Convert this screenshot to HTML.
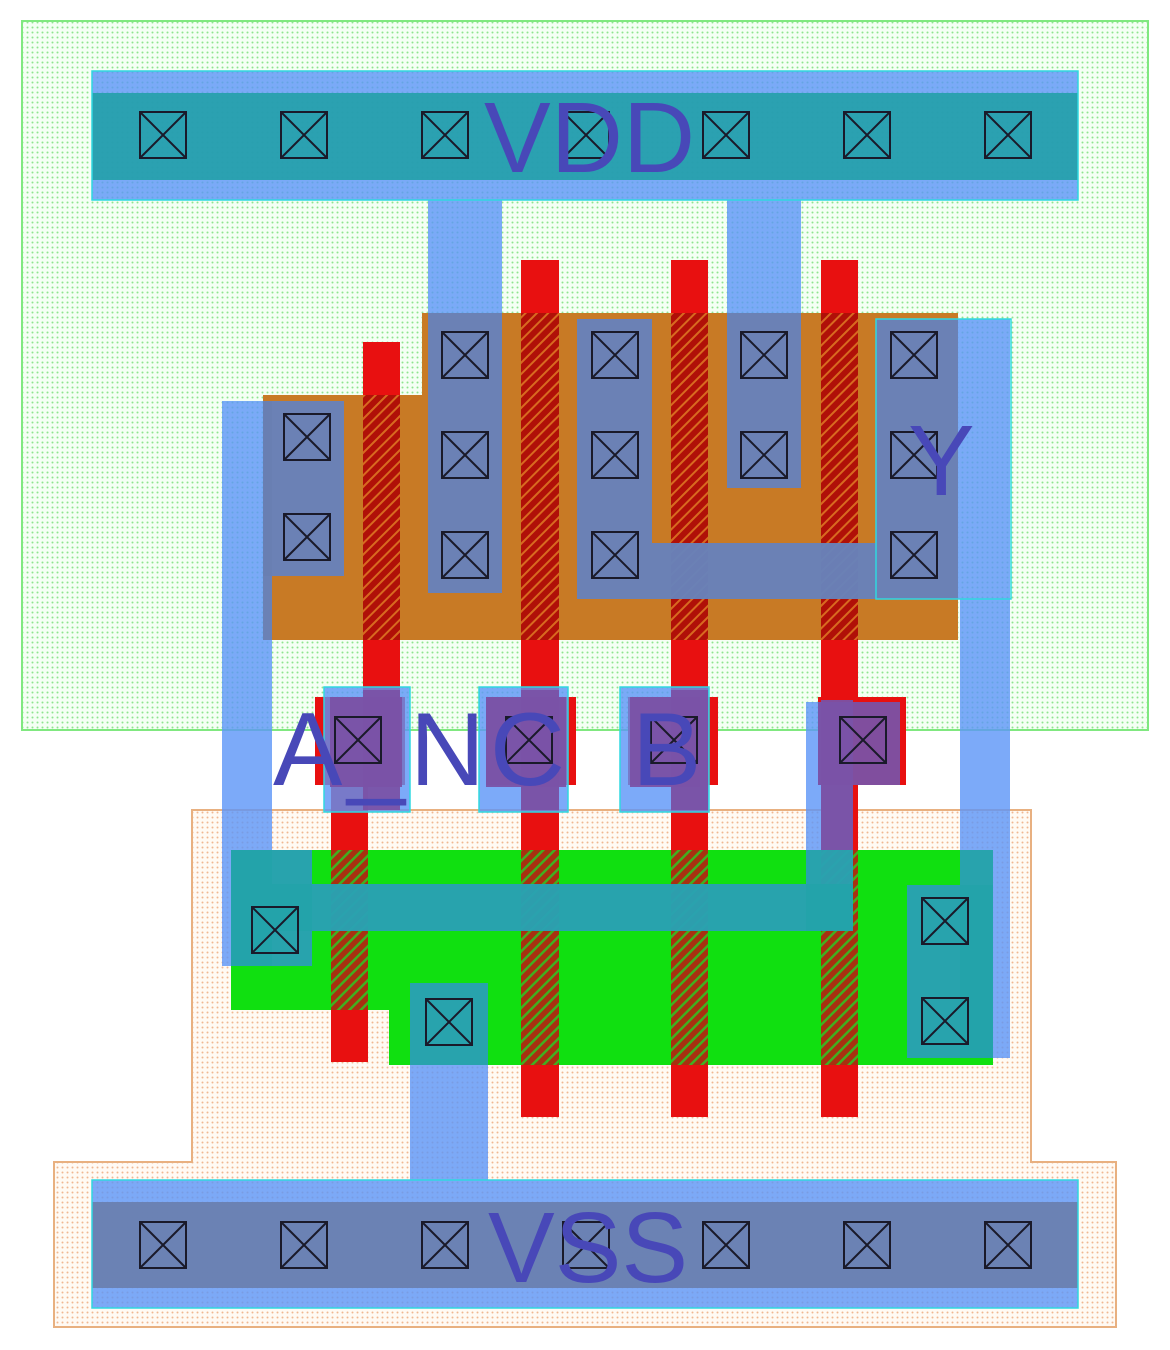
<!DOCTYPE html>
<html><head><meta charset="utf-8"><style>html,body{margin:0;padding:0;background:#fff}svg{display:block}</style></head><body>
<svg width="1170" height="1350" viewBox="0 0 1170 1350" xmlns="http://www.w3.org/2000/svg">
<defs>
<pattern id="gd" width="5" height="5" patternUnits="userSpaceOnUse"><rect width="5" height="5" fill="#f4fff4"/><circle cx="2.5" cy="2.5" r="1" fill="#8ee48e"/></pattern>
<pattern id="od" width="5" height="5" patternUnits="userSpaceOnUse"><rect width="5" height="5" fill="#fffaf4"/><circle cx="2.5" cy="2.5" r="1" fill="#f0b890"/></pattern>
<pattern id="hp" width="8" height="8" patternUnits="userSpaceOnUse" patternTransform="rotate(45)"><rect width="8" height="8" fill="#b01008"/><rect width="2" height="8" fill="#d86a20"/></pattern>
<pattern id="hn" width="8" height="8" patternUnits="userSpaceOnUse" patternTransform="rotate(45)"><rect width="8" height="8" fill="#a83010"/><rect width="2.5" height="8" fill="#40b020"/></pattern>
<g id="ct"><rect x="-23" y="-23" width="46" height="46" fill="none" stroke="#1a1a2a" stroke-width="2"/><path d="M-23 -23L23 23M23 -23L-23 23" stroke="#1a1a2a" stroke-width="2"/></g>
<clipPath id="pdc"><path d="M422 313H958V640H263V395H422Z"/></clipPath>
<clipPath id="ndc"><path d="M231 850H993V1065H389V1010H231Z"/></clipPath>
<g id="met">
<rect x="92" y="71" width="986" height="129"/>
<rect x="92" y="1180" width="986" height="128"/>
<rect x="428" y="200" width="74" height="393"/>
<rect x="727" y="200" width="74" height="288"/>
<rect x="263" y="401" width="81" height="175"/>
<path d="M577 319H652V543H876V319H1010V599H577Z"/>
<rect x="960" y="599" width="50" height="459"/>
<rect x="222" y="401" width="50" height="565"/>
<rect x="231" y="850" width="81" height="116"/>
<rect x="272" y="884" width="581" height="47"/>
<rect x="806" y="702" width="47" height="229"/>
<rect x="907" y="885" width="86" height="173"/>
<rect x="410" y="983" width="78" height="197"/>
<rect x="324" y="687" width="86" height="125"/>
<rect x="479" y="687" width="89" height="125"/>
<rect x="620" y="687" width="89" height="125"/>
</g>
</defs>
<rect x="22" y="21" width="1126" height="709" fill="url(#gd)" stroke="#80e880" stroke-width="2"/>
<path d="M192 810H1031V1162H1116V1327H54V1162H192Z" fill="url(#od)" stroke="#e8b080" stroke-width="2"/>
<path d="M422 313H958V640H263V395H422Z" fill="#c87a25"/>
<path d="M231 850H993V1065H389V1010H231Z" fill="#10e010"/>
<g fill="#e81010">
<rect x="363" y="342" width="37" height="360"/>
<rect x="315" y="697" width="90" height="88"/>
<rect x="331" y="785" width="37" height="277"/>
<rect x="521" y="260" width="38" height="857"/>
<rect x="486" y="697" width="90" height="88"/>
<rect x="671" y="260" width="37" height="857"/>
<rect x="628" y="697" width="90" height="88"/>
<rect x="821" y="260" width="37" height="857"/>
<rect x="818" y="697" width="88" height="88"/>
</g>
<g fill="url(#hp)">
<rect x="363" y="395" width="37" height="245"/>
<rect x="521" y="313" width="38" height="327"/>
<rect x="671" y="313" width="37" height="327"/>
<rect x="821" y="313" width="37" height="327"/>
</g>
<g fill="url(#hn)">
<rect x="331" y="850" width="37" height="160"/>
<rect x="521" y="850" width="38" height="215"/>
<rect x="671" y="850" width="37" height="215"/>
<rect x="821" y="850" width="37" height="215"/>
</g>
<use href="#met" fill="#5b95f8" fill-opacity="0.8"/>
<g clip-path="url(#pdc)"><use href="#met" fill="#6a7fb0" fill-opacity="0.85"/></g>
<g clip-path="url(#ndc)"><use href="#met" fill="#22a3a8" fill-opacity="0.85"/></g>
<rect x="92" y="93" width="986" height="87" fill="#22a0a8" fill-opacity="0.9"/>
<rect x="92" y="1202" width="986" height="86" fill="#6a7fb0" fill-opacity="0.95"/>
<g fill="#7a52a6" fill-opacity="0.95">
<rect x="330" y="697" width="72" height="90"/>
<rect x="363" y="690" width="37" height="120"/>
<rect x="486" y="697" width="80" height="90"/>
<rect x="521" y="690" width="38" height="120"/>
<rect x="630" y="697" width="70" height="90"/>
<rect x="671" y="690" width="37" height="120"/>
<rect x="818" y="702" width="82" height="83"/>
<rect x="821" y="700" width="32" height="150"/>
</g>
<g fill="none" stroke="#30d8e0" stroke-width="1.5">
<rect x="92" y="71" width="986" height="129"/>
<rect x="92" y="1180" width="986" height="128"/>
<rect x="324" y="687" width="86" height="125"/>
<rect x="479" y="687" width="89" height="125"/>
<rect x="620" y="687" width="89" height="125"/>
<rect x="876" y="319" width="135" height="280"/>
</g>
<g>
<use href="#ct" x="163" y="135"/><use href="#ct" x="304" y="135"/><use href="#ct" x="445" y="135"/><use href="#ct" x="586" y="135"/><use href="#ct" x="726" y="135"/><use href="#ct" x="867" y="135"/><use href="#ct" x="1008" y="135"/>
<use href="#ct" x="163" y="1245"/><use href="#ct" x="304" y="1245"/><use href="#ct" x="445" y="1245"/><use href="#ct" x="586" y="1245"/><use href="#ct" x="726" y="1245"/><use href="#ct" x="867" y="1245"/><use href="#ct" x="1008" y="1245"/>
<use href="#ct" x="307" y="437"/><use href="#ct" x="307" y="537"/>
<use href="#ct" x="465" y="355"/><use href="#ct" x="465" y="455"/><use href="#ct" x="465" y="555"/>
<use href="#ct" x="615" y="355"/><use href="#ct" x="615" y="455"/><use href="#ct" x="615" y="555"/>
<use href="#ct" x="764" y="355"/><use href="#ct" x="764" y="455"/>
<use href="#ct" x="914" y="355"/><use href="#ct" x="914" y="455"/><use href="#ct" x="914" y="555"/>
<use href="#ct" x="358" y="740"/><use href="#ct" x="529" y="740"/><use href="#ct" x="674" y="740"/><use href="#ct" x="863" y="740"/>
<use href="#ct" x="275" y="930"/><use href="#ct" x="449" y="1022"/><use href="#ct" x="945" y="921"/><use href="#ct" x="945" y="1021"/>
</g>
<g fill="#4848b8" font-family="Liberation Sans, sans-serif">
<text x="484" y="172" font-size="100">VDD</text>
<text x="488" y="1282" font-size="100">VSS</text>
<text x="273" y="785" font-size="104" textLength="292" lengthAdjust="spacing">A_NC</text>
<text x="632" y="785" font-size="104">B</text>
<text x="908" y="495" font-size="100">Y</text>
</g>
</svg>
</body></html>
